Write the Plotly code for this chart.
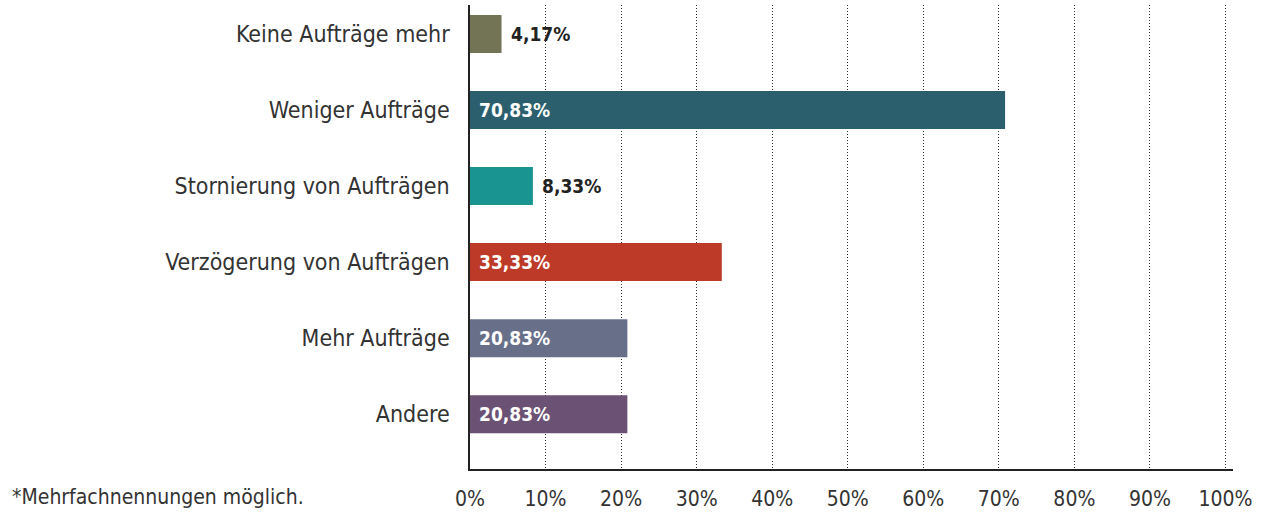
import plotly.graph_objects as go

categories = ["Keine Aufträge mehr", "Weniger Aufträge", "Stornierung von Aufträgen",
              "Verzögerung von Aufträgen", "Mehr Aufträge", "Andere"]
values = [4.17, 70.83, 8.33, 33.33, 20.83, 20.83]
colors = ["#737356", "#2b5f6e", "#1a9490", "#bd3a28", "#687089", "#6b5174"]
tick_vals = [0, 10, 20, 30, 40, 50, 60, 70, 80, 90, 100]
tick_text = [f"{v}%" for v in tick_vals]
footnote = "*Mehrfachnennungen möglich."

FONT = "Liberation Sans Narrow, DejaVu Sans Condensed, Roboto, sans-serif"

labels = [f"{v:.2f}".replace(".", ",") + "%" for v in values]

fig = go.Figure(go.Bar(
    y=categories, x=values, orientation="h",
    marker=dict(color=colors, line=dict(width=0)),
    width=0.5, hoverinfo="x+y",
))

annotations = []
for cat, v, lab in zip(categories, values, labels):
    outside = v < 15
    annotations.append(dict(
        x=v if outside else 0, y=cat, xref="x", yref="y",
        text=f"<b>{lab}</b>", showarrow=False,
        xanchor="left", yanchor="middle", xshift=7,
        font=dict(family=FONT, size=19, color="#222222" if outside else "#ffffff"),
    ))
annotations.append(dict(text=footnote, xref="paper", yref="paper",
                        x=(10 - 470) / 763, y=(469 - 497) / 464,
                        xanchor="left", yanchor="middle", showarrow=False,
                        font=dict(family=FONT, size=21, color="#333333")))

fig.update_layout(
    width=1266, height=516,
    margin=dict(l=470, r=33, t=5, b=47),
    paper_bgcolor="white", plot_bgcolor="white",
    showlegend=False,
    font=dict(family=FONT, color="#333333"),
    xaxis=dict(range=[0, 101], tickvals=tick_vals, ticktext=tick_text,
               showgrid=True, gridcolor="#333333", griddash="1px,2px", gridwidth=1,
               showline=True, linecolor="#222222", linewidth=1.5,
               zeroline=False, ticks="", tickfont=dict(size=21, color="#333333"),
               ticklabelstandoff=10),
    yaxis=dict(type="category", categoryorder="array", categoryarray=categories,
               range=[5.72, -0.38], showgrid=False,
               showline=True, linecolor="#222222", linewidth=1.5,
               ticks="", tickfont=dict(size=23, color="#333333"),
               ticklabelstandoff=14),
    annotations=annotations,
)

fig.write_html("out.html", config={"displayModeBar": False},
               post_script="document.body.style.margin='0';document.body.style.overflow='hidden';")
